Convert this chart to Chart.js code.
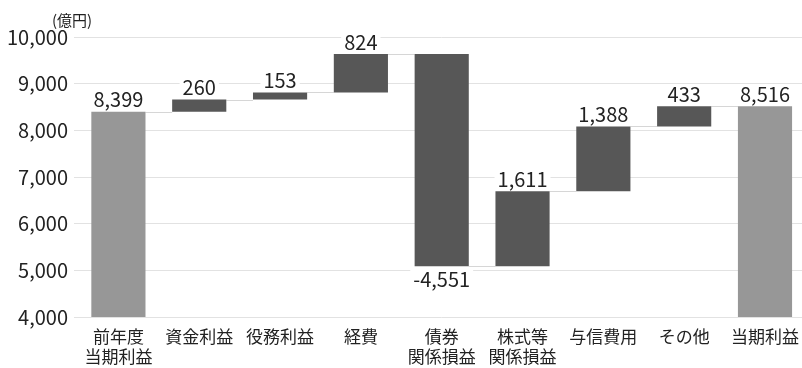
<!DOCTYPE html>
<html>
<head>
<meta charset="utf-8">
<script src="https://cdn.jsdelivr.net/npm/chart.js@4/dist/chart.umd.min.js"></script>
<style>
  html, body { margin: 0; padding: 0; background: #fff; overflow: hidden; }
  #wrap { width: 808px; height: 368px; position: relative; }
</style>
</head>
<body>
<div id="wrap"><canvas id="profitChart"></canvas></div>
<script>
// categories and values (億円)
const categories = [['前年度', '当期利益'], '資金利益', '役務利益', '経費', ['債券', '関係損益'], ['株式等', '関係損益'], '与信費用', 'その他', '当期利益'];
const changes = [8399, 260, 153, 824, -4551, 1611, 1388, 433, 8516];
const isTotal = [true, false, false, false, false, false, false, false, true];
const yTicks = [4000, 5000, 6000, 7000, 8000, 9000, 10000];

// build floating ranges for the waterfall
let running = 0;
const ranges = changes.map((v, i) => {
  if (isTotal[i]) { running = v; return [4000, v]; }
  const start = running;
  running += v;
  return [start, running];
});

const fontFamily = '"Noto Sans CJK JP", "Noto Sans", sans-serif';

const waterfallExtras = {
  id: 'waterfallExtras',
  beforeDatasetsDraw(chart) {
    const { ctx, scales: { y } } = chart;
    const meta = chart.getDatasetMeta(0);
    ctx.save();
    ctx.strokeStyle = '#d6d6d6';
    ctx.lineWidth = 1;
    for (let i = 0; i < ranges.length - 1; i++) {
      const level = ranges[i][1];
      const a = meta.data[i], b = meta.data[i + 1];
      const py = Math.round(y.getPixelForValue(level)) + 0.5;
      ctx.beginPath();
      ctx.moveTo(a.x + a.width / 2, py);
      ctx.lineTo(b.x - b.width / 2, py);
      ctx.stroke();
    }
    ctx.restore();
  },
  afterDatasetsDraw(chart) {
    const { ctx, scales: { y } } = chart;
    const meta = chart.getDatasetMeta(0);
    ctx.save();
    ctx.font = '20px ' + fontFamily;
    ctx.textAlign = 'center';
    ctx.textBaseline = 'middle';
    changes.forEach((v, i) => {
      const bar = meta.data[i];
      const txt = v.toLocaleString('en-US');
      const w = ctx.measureText(txt).width;
      let ty;
      if (v < 0) {
        ty = y.getPixelForValue(ranges[i][1]) + 13;
      } else {
        ty = y.getPixelForValue(Math.max(ranges[i][0], ranges[i][1])) - 12;
      }
      ctx.fillStyle = '#fff';
      ctx.fillRect(bar.x - w / 2 - 3, ty - 10, w + 6, 19);
      ctx.fillStyle = '#222';
      ctx.fillText(txt, bar.x, ty);
    });
    // unit label
    ctx.font = '15px ' + fontFamily;
    ctx.textAlign = 'left';
    ctx.fillText('(億円)', 52, 20);
    ctx.restore();
  }
};

const ctx = document.getElementById('profitChart').getContext('2d');
new Chart(ctx, {
  type: 'bar',
  data: {
    labels: categories,
    datasets: [{
      data: ranges,
      backgroundColor: isTotal.map(t => t ? '#979797' : '#575757'),
      borderWidth: 0,
      borderSkipped: false,
      barPercentage: 0.67,
      categoryPercentage: 1.0
    }]
  },
  options: {
    responsive: true,
    maintainAspectRatio: false,
    animation: false,
    layout: { padding: { top: 37, left: 0, right: 0, bottom: 0 } },
    plugins: {
      legend: { display: false },
      tooltip: { enabled: false }
    },
    scales: {
      x: {
        afterFit(scale) { scale.height = 51; },
        grid: { display: false, drawTicks: false },
        border: { display: false },
        ticks: {
          color: '#222',
          font: { family: fontFamily, size: 17, lineHeight: 1.2 },
          maxRotation: 0,
          autoSkip: false,
          padding: 9
        }
      },
      y: {
        min: 4000,
        max: 10000,
        afterFit(scale) { scale.width = 78; },
        afterBuildTicks(scale) { scale.ticks = yTicks.map(v => ({ value: v })); },
        grid: { color: '#e2e2e2', tickLength: 4 },
        border: { display: false },
        ticks: {
          color: '#222',
          font: { family: fontFamily, size: 20 },
          padding: 6,
          callback: v => v.toLocaleString('en-US')
        }
      }
    }
  },
  plugins: [waterfallExtras]
});
</script>
</body>
</html>
